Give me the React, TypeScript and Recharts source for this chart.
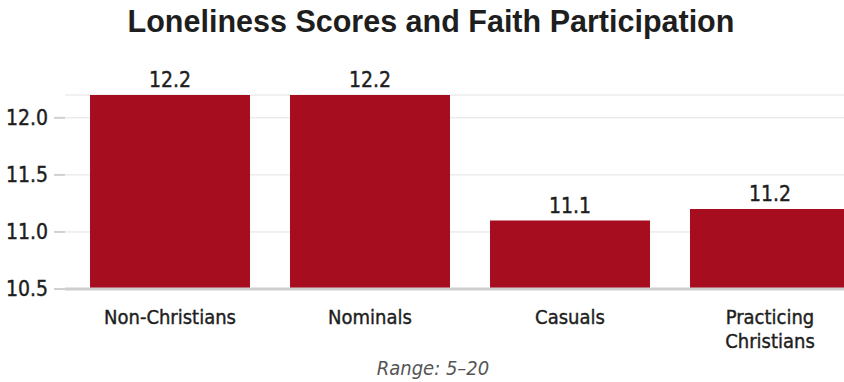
import React from 'react';
import { BarChart, Bar, XAxis, YAxis, CartesianGrid, LabelList } from 'recharts';

const categories = ['Non-Christians', 'Nominals', 'Casuals', 'Practicing Christians'];
const scores = [12.2, 12.2, 11.1, 11.2];
const yTicks = [10.5, 11.0, 11.5, 12.0];

const data = categories.map((name, i) => ({ name, score: scores[i] }));

const narrow = '"DejaVu Sans Condensed", "Liberation Sans", Arial, sans-serif';
const textColor = '#1e1e1e';

// category labels wrap onto two lines when they are long
const CategoryTick = (props: any) => {
  const { x, y, payload } = props;
  const label: string = payload.value;
  const lines = label.length > 15 ? label.split(' ') : [label];
  return (
    <text x={x} y={y} textAnchor="middle" fill={textColor} stroke={textColor} strokeWidth={0.4} fontFamily={narrow} fontSize={20}>
      {lines.map((line, i) => (
        <tspan key={i} x={x} dy={i === 0 ? 27 : 24}>{line}</tspan>
      ))}
    </text>
  );
};

export default function App() {
  return (
    <div style={{ position: 'absolute', left: 0, top: 0, width: 844, height: 382, overflow: 'hidden', background: '#fff' }}>
      <div
        style={{
          position: 'absolute', top: 4, left: 0, width: 862, textAlign: 'center',
          fontFamily: '"Liberation Sans", Arial, sans-serif', fontWeight: 700, fontSize: 30.5, color: textColor,
        }}
      >
        Loneliness Scores and Faith Participation
      </div>
      <BarChart
        width={880}
        height={382}
        data={data}
        margin={{ top: 95, right: 10, bottom: 33, left: 0 }}
        barCategoryGap={20}
      >
        <CartesianGrid horizontal vertical={false} stroke="#e2e2e2" />
        <XAxis
          dataKey="name"
          height={60}
          padding={{ left: 5, right: 0 }}
          tickLine={false}
          axisLine={{ stroke: '#cfcfcf', strokeWidth: 3 }}
          tick={<CategoryTick />}
          interval={0}
        />
        <YAxis
          width={65}
          domain={[10.5, 12.2]}
          ticks={yTicks}
          allowDataOverflow
          axisLine={false}
          tickSize={11}
          tickMargin={6}
          tickLine={{ stroke: '#d0d0d0', strokeWidth: 2 }}
          tickFormatter={(v: number) => v.toFixed(1)}
          tick={{ fill: textColor, stroke: textColor, strokeWidth: 0.4, fontFamily: narrow, fontSize: 21 }}
        />
        <Bar dataKey="score" fill="#A60D1F" isAnimationActive={false}>
          <LabelList
            dataKey="score"
            position="top"
            offset={8}
            formatter={(v: number) => v.toFixed(1)}
            style={{ fill: textColor, stroke: textColor, strokeWidth: 0.4, fontFamily: narrow, fontSize: 21 }}
          />
        </Bar>
      </BarChart>
      <div
        style={{
          position: 'absolute', top: 356, left: 333, width: 200, textAlign: 'center',
          fontFamily: narrow, fontStyle: 'italic', fontSize: 20, color: '#555',
        }}
      >
        Range: 5–20
      </div>
    </div>
  );
}
